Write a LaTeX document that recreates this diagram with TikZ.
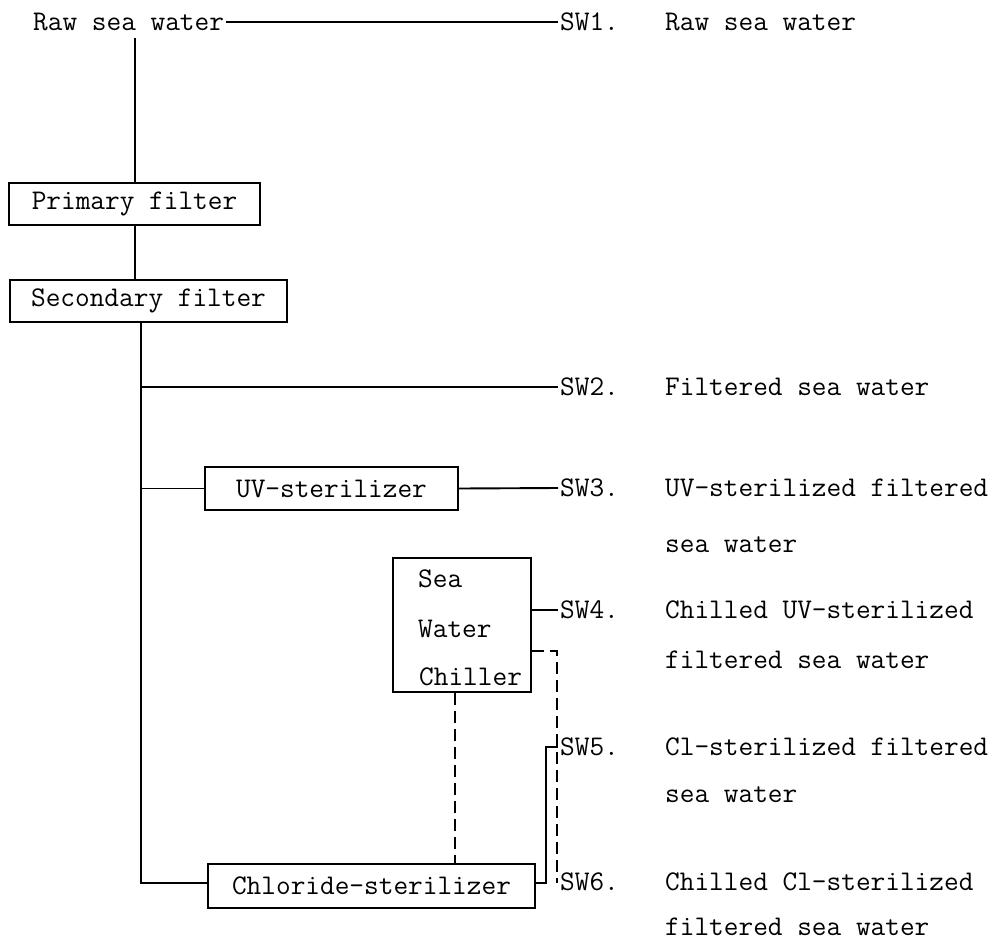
\documentclass[tikz,border=0pt]{standalone}
\usepackage{fontspec}
\begin{document}
\begin{tikzpicture}[x=1pt,y=-1pt,
  every node/.style={font=\fontsize{28.5}{49}\selectfont\ttfamily, inner sep=2pt},
  box/.style={draw, line width=1.9pt, minimum height=42pt, inner sep=0pt},
  lbl/.style={anchor=west},
  pipe/.style={line width=1.9pt},
  dpipe/.style={line width=1.9pt, dash pattern=on 12pt off 6pt}]
\useasboundingbox (0,0) rectangle (1008,950);
\fill[white] (0,0) rectangle (1008,950);

\node[lbl] (raw) at (31,22) {Raw sea water};
\node[lbl] (sw1) at (558,22) {SW1.};
\node[lbl] (d1) at (663,22) {Raw sea water};
\coordinate (top) at (135,38);
\node[box, minimum width=251pt] (prim) at (134.5,204) {Primary filter};
\node[box, minimum width=277pt] (sec) at (148.5,301) {Secondary filter};
\node[lbl] (sw2) at (558,387) {SW2.};
\node[lbl] (d2) at (663,387) {Filtered sea water};
\node[box, minimum width=253pt, minimum height=43pt] (uv) at (331.5,488.5) {UV-sterilizer};
\node[lbl] (sw3) at (558,488) {SW3.};
\node[lbl] (d3a) at (663,488) {UV-sterilized filtered};
\node[lbl] (d3b) at (663,545) {sea water};
\node[box, minimum width=138pt, minimum height=134pt] (chill) at (462,625) {};
\node[anchor=base west, inner sep=0pt] (c1) at (418,587) {Sea};
\node[anchor=base west, inner sep=0pt] (c2) at (418,637) {Water};
\node[anchor=base west, inner sep=0pt] (c3) at (419,685) {Chiller};
\node[lbl] (sw4) at (558,610) {SW4.};
\node[lbl] (d4a) at (663,610) {Chilled UV-sterilized};
\node[lbl] (d4b) at (663,660) {filtered sea water};
\node[lbl] (sw5) at (558,747) {SW5.};
\node[lbl] (d5a) at (663,747) {Cl-sterilized filtered};
\node[lbl] (d5b) at (663,795) {sea water};
\node[box, minimum width=327pt, minimum height=44pt] (chl) at (371.5,886) {Chloride-sterilizer};
\node[lbl] (sw6) at (558,882) {SW6.};
\node[lbl] (d6a) at (663,882) {Chilled Cl-sterilized};
\node[lbl] (d6b) at (663,927) {filtered sea water};

\coordinate (spine) at (141,0);
\coordinate (dx) at (455,0);
\draw[pipe] (raw.east) -- (sw1.west);
\draw[pipe] (top) -- (top |- prim.north);
\draw[pipe] (prim.south -| top) -- (sec.north -| top);
\draw[pipe] (sec.south -| spine) -- (spine |- 0,883) -- (chl.west |- 0,883);
\draw[pipe] (spine |- sw2.west) -- (sw2.west);
\draw[pipe] (spine |- uv.west) -- (uv.west);
\draw[pipe] (uv.east) -- (sw3.west);
\draw[pipe] (chill.east |- sw4.west) -- (sw4.west);
\draw[dpipe] (chill.east |- 0,651) -- (557,651) |- (sw6.west);
\draw[dpipe] (chill.south -| dx) -- (chl.north -| dx);
\draw[pipe] (chl.east |- 0,883) -| (546,747) -- (sw5.west);
\end{tikzpicture}
\end{document}
